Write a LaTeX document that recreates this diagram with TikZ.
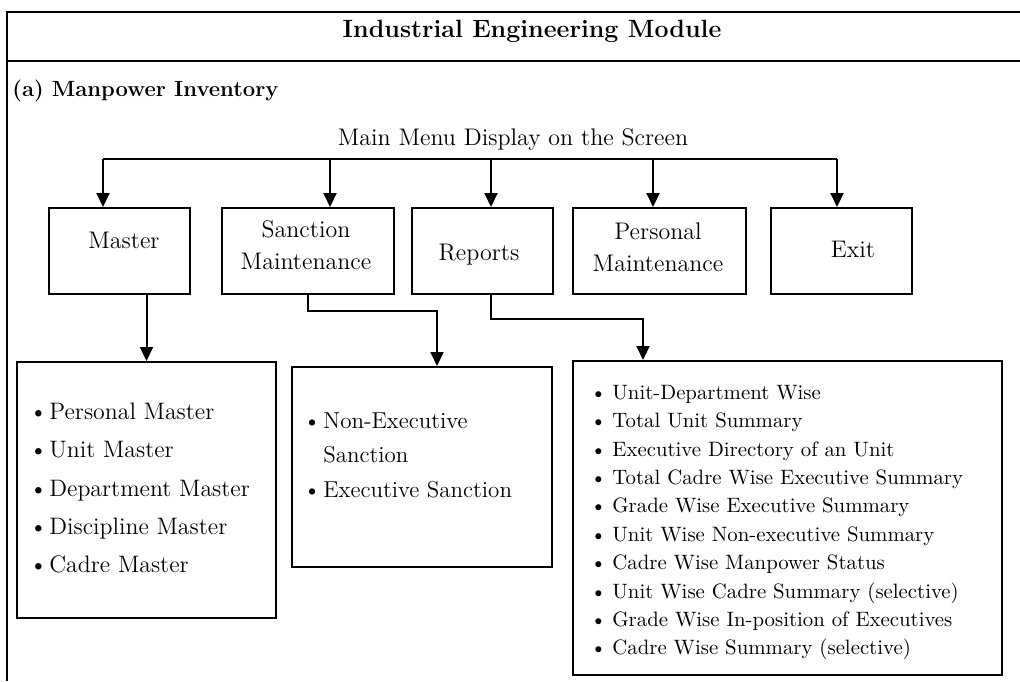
\documentclass[tikz,border=0pt]{standalone}
\usetikzlibrary{arrows.meta}
\newcommand{\listentry}[2]{\makebox[#1][l]{\textbullet}#2}
\begin{document}
\begin{tikzpicture}[x=0.5pt,y=-0.5pt,
  rule/.style={line width=1pt},
  menubox/.style={draw, line width=1pt, minimum height=43pt, inner sep=0pt},
  listbox/.style={draw, line width=1pt, inner sep=0pt},
  flow/.style={line width=1pt, -{Triangle[length=7pt,width=6.5pt]}},
  menutext/.style={font=\fontsize{12}{16}\selectfont, align=center, inner sep=0pt},
  listtext/.style={align=left, inner sep=0pt, anchor=west}]
\useasboundingbox (0,0) rectangle (1020,681);

% open frame with the heading band
\draw[rule] (1020,12) -- (7,12) -- (7,681);
\draw[rule] (7,61) -- (1020,61);
\node[inner sep=0pt, font=\fontsize{12.5}{15}\selectfont\bfseries] (title) at (532,31) {Industrial Engineering Module};
\node[inner sep=0pt, anchor=west, font=\fontsize{11}{13}\selectfont\bfseries] (section) at (12,91) {(a) Manpower Inventory};

\node[inner sep=0pt, font=\fontsize{12}{14}\selectfont] (mainmenu) at (513,139) {Main Menu Display on the Screen};

% menu boxes
\node[menubox, minimum width=70.5pt] (master)   at (119.5,251) {};
\node[menubox, minimum width=86pt]   (sanction) at (308,251)   {};
\node[menubox, minimum width=70.5pt] (reports)  at (482.5,251) {};
\node[menubox, minimum width=86.5pt] (personal) at (659.5,251) {};
\node[menubox, minimum width=70.5pt] (exit)     at (841.5,251) {};

\node[menutext] (mastertxt)   at (124,240) {Master};
\node[menutext] (sanctiontxt) at (306,245) {Sanction\\Maintenance};
\node[menutext] (reportstxt)  at (479,255) {Reports};
\node[menutext] (personaltxt) at (658,247.5) {Personal\\Maintenance};
\node[menutext] (exittxt)     at (853,249) {Exit};

% distribution bus
\coordinate (t1) at (103,159);
\coordinate (t2) at (330,159);
\coordinate (t3) at (491,159);
\coordinate (t4) at (653,159);
\coordinate (t5) at (837,159);
\draw[rule] (t1) -- (t5);
\draw[flow] (t1) -- (t1 |- master.north);
\draw[flow] (t2) -- (t2 |- sanction.north);
\draw[flow] (t3) -- (t3 |- reports.north);
\draw[flow] (t4) -- (t4 |- personal.north);
\draw[flow] (t5) -- (t5 |- exit.north);

% sub-menu lists
\node[listbox, minimum width=129.5pt, minimum height=128pt] (b1) at (146.5,490) {};
\node[listbox, minimum width=130pt,   minimum height=100pt] (b2) at (422,467)   {};
\node[listbox, minimum width=214.5pt, minimum height=157pt] (b3) at (787.5,518) {};

\node[listtext, font=\fontsize{11.9}{19.2}\selectfont] (b1txt) at (29,488) {%
  \listentry{10pt}{Personal Master}\\
  \listentry{10pt}{Unit Master}\\
  \listentry{10pt}{Department Master}\\
  \listentry{10pt}{Discipline Master}\\
  \listentry{10pt}{Cadre Master}};

\node[listtext, font=\fontsize{11.5}{17.2}\selectfont] (b2txt) at (303,455) {%
  \listentry{10pt}{Non-Executive}\\
  \hspace*{10pt}Sanction\\
  \listentry{10pt}{Executive Sanction}};

\node[listtext, font=\fontsize{10.4}{14.2}\selectfont] (b3txt) at (590,522.5) {%
  \listentry{11pt}{Unit-Department Wise}\\
  \listentry{11pt}{Total Unit Summary}\\
  \listentry{11pt}{Executive Directory of an Unit}\\
  \listentry{11pt}{Total Cadre Wise Executive Summary}\\
  \listentry{11pt}{Grade Wise Executive Summary}\\
  \listentry{11pt}{Unit Wise Non-executive Summary}\\
  \listentry{11pt}{Cadre Wise Manpower Status}\\
  \listentry{11pt}{Unit Wise Cadre Summary (selective)}\\
  \listentry{11pt}{Grade Wise In-position of Executives}\\
  \listentry{11pt}{Cadre Wise Summary (selective)}};

% links from menu boxes to their lists
\coordinate (sjog) at (437,311);
\coordinate (rtap) at (491,294);
\coordinate (rjog) at (643,319);
\draw[flow] (b1.north |- master.south) -- (b1.north);
\draw[flow] (sanction.south) |- (sjog) -- (sjog |- b2.north);
\draw[flow] (rtap) |- (rjog) -- (rjog |- b3.north);
\end{tikzpicture}
\end{document}
